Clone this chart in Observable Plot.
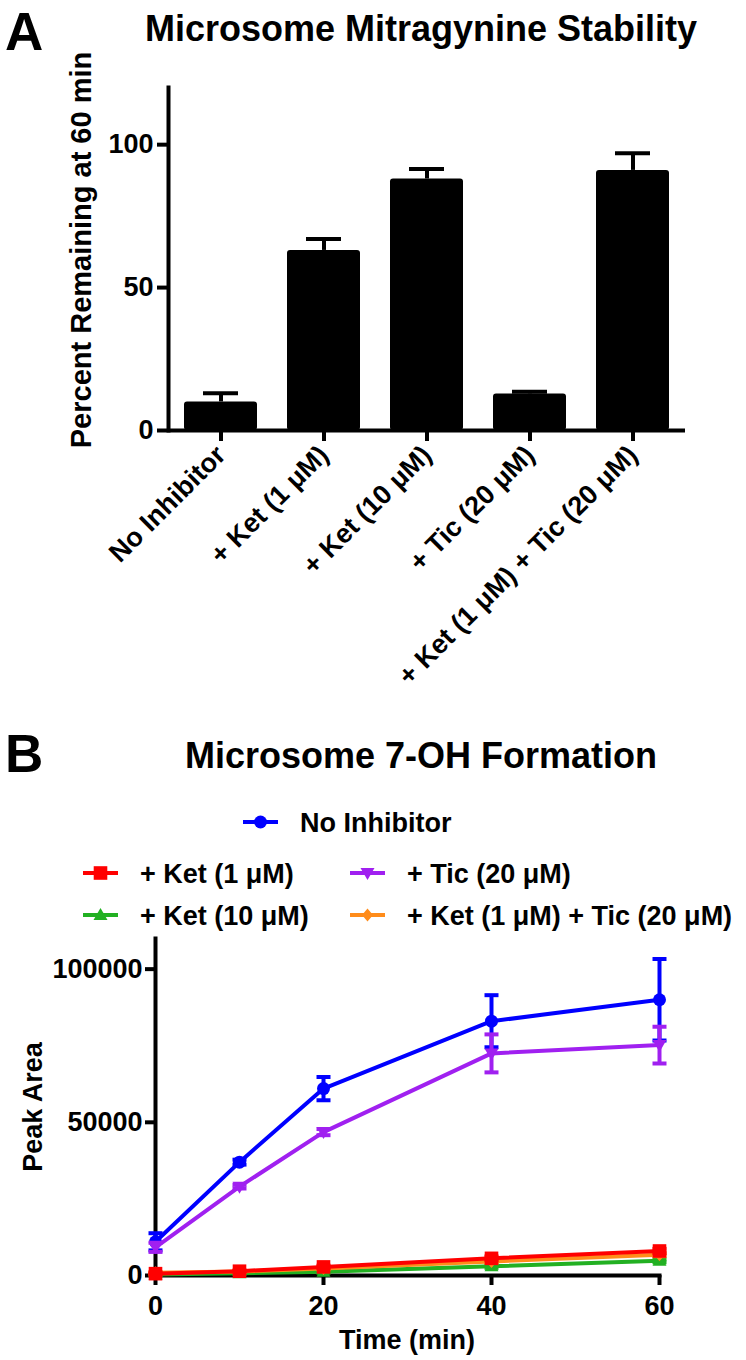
<!DOCTYPE html>
<html><head><meta charset="utf-8">
<script src="https://cdn.jsdelivr.net/npm/d3@7"></script>
<script src="https://cdn.jsdelivr.net/npm/@observablehq/plot@0.6"></script>
<style>
body{margin:0;background:#fff;}
#root{position:relative;width:746px;height:1360px;overflow:hidden;background:#fff;}
#root svg{position:absolute;left:0;}
</style></head><body><div id="root"></div>
<script>
// ---------- Panel A data ----------
const categories = ["No Inhibitor", "+ Ket (1 μM)", "+ Ket (10 μM)", "+ Tic (20 μM)", "+ Ket (1 μM) + Tic (20 μM)"];
const percentRemaining = [10, 63, 88, 12.8, 91];
const percentSEM = [3, 4, 3.5, 0.8, 6];
const yTicksA = [0, 50, 100];

// ---------- Panel B data ----------
const timeMin = [0, 10, 20, 40, 60];
const seriesNames = ["No Inhibitor", "+ Tic (20 μM)", "+ Ket (10 μM)", "+ Ket (1 μM) + Tic (20 μM)", "+ Ket (1 μM)"];
const noInhibitor = [11000, 37000, 61000, 83000, 90000];
const noInhibitorErr = [2800, 800, 3800, 8500, 13300];
const tic20 = [9200, 29000, 46800, 72500, 75200];
const tic20Err = [1500, 600, 1000, 6200, 6000];
const ket10 = [300, 700, 1200, 3000, 4800];
const ket10Err = [200, 200, 300, 500, 500];
const ketTic = [900, 1300, 2300, 4600, 6800];
const ketTicErr = [200, 200, 300, 400, 500];
const ket1 = [600, 1400, 2800, 5600, 8000];
const ket1Err = [300, 200, 400, 600, 700];
const yTicksB = [0, 50000, 100000];
const xTicksB = [0, 20, 40, 60];

const FONT = "'Liberation Sans', Arial, Helvetica, sans-serif";
const root = document.getElementById("root");

// ---------- Panel A ----------
const dataA = categories.map((c, i) => ({cat: c, v: percentRemaining[i], e: percentSEM[i]}));
const plotA = Plot.plot({
  width: 746, height: 700,
  marginTop: 87, marginBottom: 270, marginLeft: 168, marginRight: 61,
  style: {fontFamily: FONT, fontWeight: "bold", fontSize: "27px", color: "#000", background: "transparent"},
  x: {domain: categories, paddingInner: 0.29, paddingOuter: 0.145, label: null},
  y: {domain: [0, 120], label: null},
  marks: [
    Plot.ruleX(dataA, {x: "cat", y1: "v", y2: d => d.v + d.e, stroke: "#000", strokeWidth: 4}),
    Plot.tickY(dataA, {x: "cat", y: d => d.v + d.e, stroke: "#000", strokeWidth: 4, insetLeft: 19, insetRight: 19}),
    Plot.barY(dataA, {x: "cat", y: "v", fill: "#000", rx: 3}),
    Plot.ruleY([0], {stroke: "#000", strokeWidth: 4}),
    Plot.frame({anchor: "left", stroke: "#000", strokeWidth: 4}),
    Plot.axisY({ticks: yTicksA, tickSize: 11, tickPadding: 4, strokeWidth: 4, label: null, fontSize: 27}),
    Plot.axisX({tickRotate: -45, tickSize: 11, tickPadding: 9, strokeWidth: 4, label: null, fontSize: 27})
  ]
});
plotA.style.top = "0px";
root.appendChild(plotA);

// ---------- Panel B ----------
const seriesDefs = [
  {name: seriesNames[0], values: noInhibitor, err: noInhibitorErr, color: "#0000ff", sym: "circle"},
  {name: seriesNames[1], values: tic20, err: tic20Err, color: "#a020f0", sym: "tridown"},
  {name: seriesNames[2], values: ket10, err: ket10Err, color: "#22b022", sym: "triup"},
  {name: seriesNames[3], values: ketTic, err: ketTicErr, color: "#ff8c1a", sym: "diamond"},
  {name: seriesNames[4], values: ket1, err: ket1Err, color: "#ff0000", sym: "square"}
];
const symbolDraw = {
  circle: {draw(c) { c.moveTo(6.5, 0); c.arc(0, 0, 6.5, 0, 2 * Math.PI); c.closePath(); }},
  square: {draw(c) { const s = 6.8; c.moveTo(-s, -s); c.lineTo(s, -s); c.lineTo(s, s); c.lineTo(-s, s); c.closePath(); }},
  triup: {draw(c) { c.moveTo(0, -7); c.lineTo(7, 5); c.lineTo(-7, 5); c.closePath(); }},
  tridown: {draw(c) { c.moveTo(0, 7); c.lineTo(7, -5); c.lineTo(-7, -5); c.closePath(); }},
  diamond: {draw(c) { c.moveTo(0, -6.5); c.lineTo(5.5, 0); c.lineTo(0, 6.5); c.lineTo(-5.5, 0); c.closePath(); }}
};
const capSymbol = {draw(c) { c.moveTo(-7, 0); c.lineTo(7, 0); }};

const seriesMarks = seriesDefs.flatMap(s => {
  const rows = timeMin.map((t, i) => ({t, y: s.values[i], err: s.err[i]}));
  return [
    Plot.line(rows, {x: "t", y: "y", stroke: s.color, strokeWidth: 4}),
    Plot.ruleX(rows, {x: "t", y1: d => d.y - d.err, y2: d => d.y + d.err, stroke: s.color, strokeWidth: 4}),
    Plot.dot(rows, {x: "t", y: d => d.y + d.err, symbol: capSymbol, fill: "none", stroke: s.color, strokeWidth: 4}),
    Plot.dot(rows, {x: "t", y: d => Math.max(0, d.y - d.err), symbol: capSymbol, fill: "none", stroke: s.color, strokeWidth: 4}),
    Plot.dot(rows, {x: "t", y: "y", symbol: symbolDraw[s.sym], fill: s.color, stroke: "none"})
  ];
});

const plotB = Plot.plot({
  width: 746, height: 460,
  marginTop: 38, marginBottom: 85, marginLeft: 155, marginRight: 87,
  style: {fontFamily: FONT, fontWeight: "bold", fontSize: "27px", color: "#000", background: "transparent", overflow: "visible"},
  x: {domain: [0, 60], label: null},
  y: {domain: [0, 110000], label: null},
  marks: [
    Plot.frame({anchor: "left", stroke: "#000", strokeWidth: 4}),
    Plot.frame({anchor: "bottom", stroke: "#000", strokeWidth: 4}),
    Plot.axisY({ticks: yTicksB, tickFormat: d => String(d), tickSize: 10, tickPadding: 3, strokeWidth: 4, label: null, fontSize: 27}),
    Plot.axisX({ticks: xTicksB, tickFormat: d => String(d), tickSize: 10, tickPadding: 10, strokeWidth: 4, label: null, fontSize: 27}),
    ...seriesMarks
  ]
});
plotB.style.top = "900px";
root.appendChild(plotB);

// ---------- Titles, labels, legend (overlay) ----------
const ov = d3.select(root).append("svg")
  .attr("width", 746).attr("height", 1360)
  .style("top", "0px").style("pointer-events", "none")
  .attr("font-family", FONT).attr("font-weight", "bold").attr("fill", "#000");

function txt(x, y, s, size, anchor = "start", rot = 0) {
  const t = ov.append("text").attr("font-size", size).attr("text-anchor", anchor).text(s);
  if (rot) t.attr("transform", `translate(${x},${y}) rotate(${rot})`);
  else t.attr("x", x).attr("y", y);
  return t;
}
txt(5, 50, "A", 53);
txt(421, 41, "Microsome Mitragynine Stability", 36, "middle");
txt(91, 250, "Percent Remaining at 60 min", 29, "middle", -90);

txt(5, 772, "B", 53);
txt(421, 768, "Microsome 7-OH Formation", 36, "middle");
txt(42, 1107, "Peak Area", 27, "middle", -90);
txt(407, 1349, "Time (min)", 27, "middle");

const legendPos = [
  {i: 0, x: 243, y: 822},
  {i: 4, x: 83, y: 873},
  {i: 1, x: 350, y: 873},
  {i: 2, x: 83, y: 915},
  {i: 3, x: 350, y: 915}
];
legendPos.forEach(p => {
  const s = seriesDefs[p.i];
  ov.append("line").attr("x1", p.x).attr("x2", p.x + 35).attr("y1", p.y).attr("y2", p.y)
    .attr("stroke", s.color).attr("stroke-width", 4);
  const path = d3.path();
  symbolDraw[s.sym].draw(path);
  ov.append("path").attr("d", path.toString()).attr("transform", `translate(${p.x + 17.5},${p.y})`).attr("fill", s.color);
  txt(p.x + 57, p.y + 10, s.name, 27);
});
</script></body></html>
